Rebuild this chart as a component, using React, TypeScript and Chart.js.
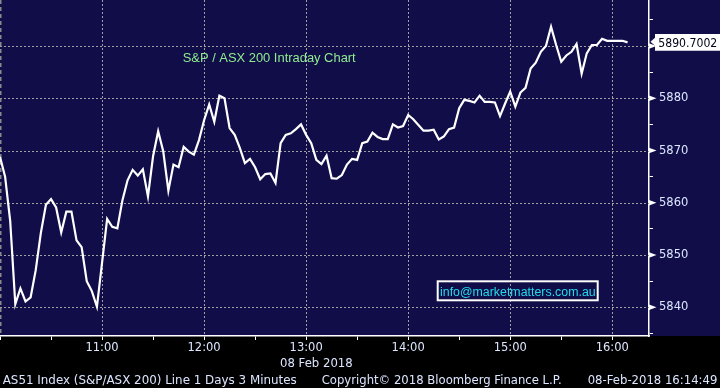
import React, { useEffect, useRef } from "react";
import { Chart, registerables } from "chart.js";

Chart.register(...registerables);

// ---- data ----
const stepMinutes = 3; // 3-minute bars starting 10:00
const seriesValues = [
  5868.8, 5865.0, 5856.5, 5840.6, 5843.6, 5841.1, 5841.9, 5847.1, 5854.2, 5859.6,
  5860.7, 5859.1, 5854.3, 5858.3, 5858.3, 5852.8, 5851.5, 5845.0, 5843.1, 5840.1,
  5848.5, 5856.9, 5855.4, 5855.1, 5860.5, 5864.3, 5866.3, 5865.2, 5866.4, 5861.2,
  5868.9, 5873.7, 5869.8, 5862.3, 5867.3, 5866.8, 5870.7, 5869.8, 5869.2, 5872.0,
  5875.8, 5878.8, 5875.5, 5880.5, 5880.0, 5874.3, 5873.0, 5870.5, 5867.6, 5868.4,
  5866.8, 5864.5, 5865.5, 5865.6, 5863.8, 5871.4, 5873.0, 5873.3, 5874.1, 5875.0,
  5873.0, 5871.4, 5868.2, 5867.4, 5869.0, 5864.7, 5864.6, 5865.3, 5867.3, 5868.4,
  5868.2, 5871.4, 5871.7, 5873.4, 5872.6, 5872.2, 5872.2, 5875.0, 5874.4, 5874.7,
  5876.8, 5876.0, 5874.9, 5873.8, 5873.8, 5874.0, 5872.1, 5872.7, 5874.1, 5874.4,
  5878.1, 5879.7, 5879.5, 5879.2, 5880.5, 5879.3, 5879.3, 5879.2, 5876.6, 5879.0,
  5881.3, 5878.4, 5881.1, 5882.0, 5885.7, 5886.8, 5888.9, 5890.0, 5893.7, 5890.2,
  5887.0, 5888.2, 5888.9, 5890.4, 5884.7, 5888.6, 5890.2, 5890.2, 5891.4, 5891.0,
  5891.0, 5891.0, 5891.0, 5890.7002,
];
const lastValueLabel = "5890.7002";

const xTickMinutes = [0, 30, 60, 90, 120, 150, 180, 210, 240, 270, 300, 330, 360];
const xTickLabels = ["", "", "11:00", "", "12:00", "", "13:00", "", "14:00", "", "15:00", "", "16:00"];
const xMin = 0;
const xMax = 381.6;

const yTickValues = [5835, 5840, 5845, 5850, 5855, 5860, 5865, 5870, 5875, 5880, 5885, 5890, 5895];
const yTickLabels = ["", "5840", "", "5850", "", "5860", "", "5870", "", "5880", "", "5890", ""];
const yMin = 5834.5;
const yMax = 5898.81;

const titleText = "S&P / ASX 200 Intraday Chart";
const infoText = "info@marketmatters.com.au";
const dateLabel = "08 Feb 2018";
const footerLeft = "AS51 Index (S&P/ASX 200) Line 1 Days 3 Minutes";
const footerMid = "Copyright\u00A9 2018 Bloomberg Finance L.P.";
const footerRight = "08-Feb-2018 16:14:49";

// ---- styles ----
const NAVY = "rgb(16,13,72)";
const GRID = "#a0a0a0";
const LABEL = "#dde6ff";
const AXIS_FONT = '"DejaVu Sans"';

function drawFitted(
  ctx: CanvasRenderingContext2D,
  text: string,
  x: number,
  baseline: number,
  width: number,
  font: string,
  color: string
) {
  ctx.save();
  ctx.font = font;
  ctx.textBaseline = "alphabetic";
  ctx.textAlign = "left";
  const w = ctx.measureText(text).width || 1;
  ctx.translate(x, baseline);
  ctx.scale(width / w, 1);
  ctx.fillStyle = color;
  ctx.fillText(text, 0, 0);
  ctx.restore();
}

const decorPlugin = {
  id: "decor",
  beforeDraw(chart: any) {
    const { ctx, chartArea, width, height } = chart;
    ctx.save();
    ctx.fillStyle = "#000";
    ctx.fillRect(0, 0, width, height);
    ctx.fillStyle = NAVY;
    ctx.fillRect(0, 0, width, chartArea.bottom);
    ctx.restore();
  },
  beforeDatasetsDraw(chart: any) {
    const { ctx, chartArea } = chart;
    const xs = chart.scales.x;
    const ys = chart.scales.y;
    ctx.save();
    // dotted grid at labelled ticks
    ctx.strokeStyle = GRID;
    ctx.lineWidth = 1;
    ctx.setLineDash([2, 2]);
    yTickValues.forEach((v, i) => {
      if (!yTickLabels[i]) return;
      const y = Math.round(ys.getPixelForValue(v)) + 0.5;
      ctx.beginPath();
      ctx.moveTo(chartArea.left, y);
      ctx.lineTo(chartArea.right, y);
      ctx.stroke();
    });
    xTickMinutes.forEach((v, i) => {
      if (!xTickLabels[i]) return;
      const x = Math.round(xs.getPixelForValue(v)) + 0.5;
      ctx.beginPath();
      ctx.moveTo(x, chartArea.top);
      ctx.lineTo(x, chartArea.bottom);
      ctx.stroke();
    });
    // session-start dashed marker at left edge
    const x0 = xs.getPixelForValue(xTickMinutes[0]);
    ctx.strokeStyle = "#8a8a8a";
    ctx.lineWidth = 1.5;
    ctx.setLineDash([4, 3]);
    ctx.beginPath();
    ctx.moveTo(x0 + 0.75, chartArea.top);
    ctx.lineTo(x0 + 0.75, chartArea.bottom);
    ctx.stroke();
    ctx.restore();
  },
  afterDraw(chart: any) {
    const { ctx, chartArea } = chart;
    const ys = chart.scales.y;
    ctx.save();
    // triangle markers at labelled y ticks
    ctx.fillStyle = "#ffffff";
    yTickValues.forEach((v, i) => {
      if (!yTickLabels[i]) return;
      const y = ys.getPixelForValue(v);
      const x = chartArea.right;
      ctx.beginPath();
      ctx.moveTo(x, y - 2.8);
      ctx.lineTo(x + 7.5, y);
      ctx.lineTo(x, y + 2.8);
      ctx.closePath();
      ctx.fill();
    });

    // last value tag
    const last = seriesValues[seriesValues.length - 1];
    const ty = ys.getPixelForValue(last);
    const bx = chartArea.right + 6;
    ctx.fillStyle = "#ffffff";
    ctx.beginPath();
    ctx.moveTo(bx, ty - 8.3);
    ctx.lineTo(chart.width + 2, ty - 8.3);
    ctx.lineTo(chart.width + 2, ty + 8.4);
    ctx.lineTo(bx, ty + 8.4);
    ctx.lineTo(bx, ty + 3.5);
    ctx.lineTo(bx - 4.5, ty - 0.5);
    ctx.lineTo(bx, ty - 4.5);
    ctx.closePath();
    ctx.fill();
    drawFitted(ctx, lastValueLabel, bx + 3.3, ty + 4.5, 59, `12px ${AXIS_FONT}`, "#000018");

    // title
    drawFitted(ctx, titleText, 182.7, 62.3, 173, '13px "Liberation Sans"', "#8fec8f");

    // info box
    ctx.strokeStyle = "#ffffff";
    ctx.lineWidth = 2;
    ctx.setLineDash([]);
    ctx.strokeRect(437.7, 281.3, 160, 19);
    drawFitted(ctx, infoText, 440, 295.8, 155.7, '12.5px "Liberation Sans"', "#22dcec");

    // date under axis & footer
    drawFitted(ctx, dateLabel, 280, 366.7, 72.7, `11.5px ${AXIS_FONT}`, LABEL);
    drawFitted(ctx, footerLeft, 2.7, 384, 294, `11.5px ${AXIS_FONT}`, LABEL);
    drawFitted(ctx, footerMid, 321.7, 384, 240, `11.5px ${AXIS_FONT}`, LABEL);
    drawFitted(ctx, footerRight, 587.7, 384, 129.6, `11.5px ${AXIS_FONT}`, LABEL);
    ctx.restore();
  },
};

export default function App() {
  const canvasRef = useRef<HTMLCanvasElement | null>(null);

  useEffect(() => {
    const canvas = canvasRef.current;
    if (!canvas) return;
    const chart = new Chart(canvas, {
      type: "line",
      data: {
        datasets: [
          {
            label: "AS51 Index",
            data: seriesValues.map((v, i) => ({ x: i * stepMinutes, y: v })),
            borderColor: "#ffffff",
            borderWidth: 2.2,
            pointRadius: 0,
            tension: 0,
            fill: false,
          },
        ],
      },
      options: {
        responsive: false,
        animation: false,
        layout: { padding: 0 },
        plugins: {
          legend: { display: false },
          tooltip: { enabled: false },
          title: { display: false },
        },
        scales: {
          x: {
            type: "linear",
            position: "bottom",
            min: xMin,
            max: xMax,
            afterBuildTicks: (s: any) => {
              s.ticks = xTickMinutes.map((v) => ({ value: v }));
            },
            afterFit: (s: any) => {
              s.height = 52;
              s.paddingLeft = 0;
              s.paddingRight = 0;
            },
            ticks: {
              autoSkip: false,
              maxRotation: 0,
              minRotation: 0,
              padding: 1,
              color: LABEL,
              font: { family: AXIS_FONT, size: 11.5 },
              callback: (_v: any, i: number) => xTickLabels[i],
            },
            grid: {
              drawOnChartArea: false,
              drawTicks: true,
              tickLength: 4,
              tickColor: "#ffffff",
              tickWidth: 1,
              color: "#ffffff",
            },
            border: { display: true, color: "#ffffff", width: 1.5 },
          },
          y: {
            type: "linear",
            position: "right",
            min: yMin,
            max: yMax,
            afterBuildTicks: (s: any) => {
              s.ticks = yTickValues.map((v) => ({ value: v }));
            },
            afterFit: (s: any) => {
              s.width = 71;
              s.paddingTop = 0;
              s.paddingBottom = 0;
            },
            ticks: {
              autoSkip: false,
              padding: 6,
              color: LABEL,
              font: { family: AXIS_FONT, size: 11.5 },
              callback: (_v: any, i: number) => yTickLabels[i],
            },
            grid: {
              drawOnChartArea: false,
              drawTicks: true,
              tickLength: 4,
              tickColor: "#ffffff",
              tickWidth: 1,
              color: "#ffffff",
            },
            border: { display: true, color: "#ffffff", width: 1.5 },
          },
        },
      },
      plugins: [decorPlugin],
    } as any);
    return () => chart.destroy();
  }, []);

  return (
    <div
      style={{
        position: "fixed",
        left: 0,
        top: 0,
        width: 720,
        height: 388,
        background: "#000",
      }}
    >
      <canvas ref={canvasRef} width={720} height={388} style={{ display: "block" }} />
    </div>
  );
}
